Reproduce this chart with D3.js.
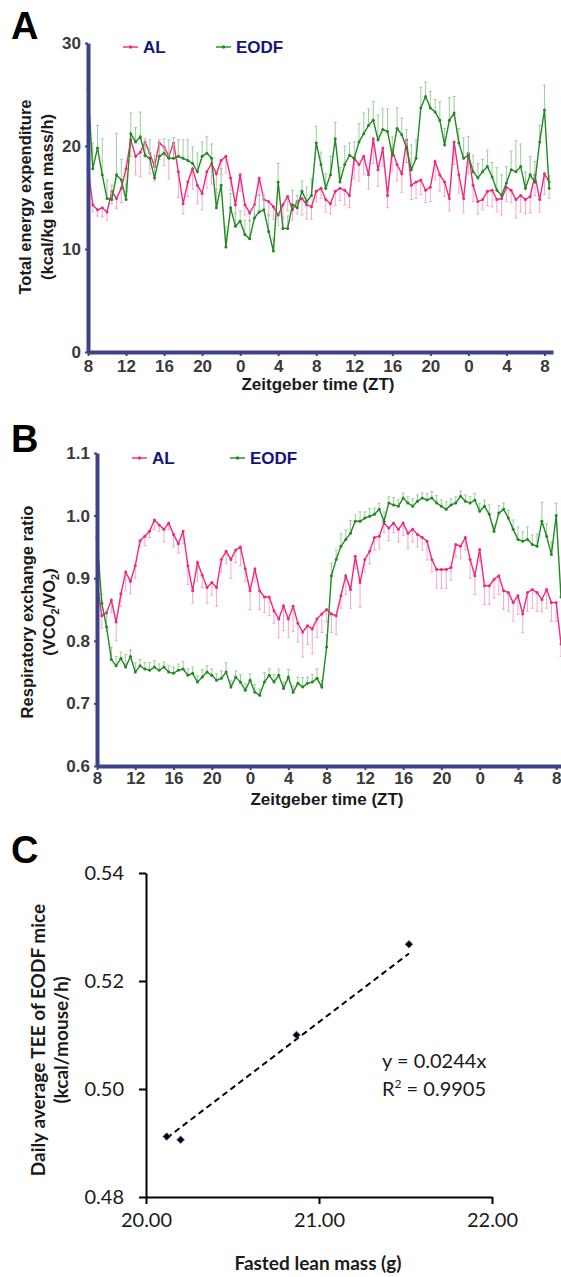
<!DOCTYPE html>
<html>
<head>
<meta charset="utf-8">
<script src="https://cdn.jsdelivr.net/npm/d3@7"></script>
<style>
  body { margin: 0; background: #ffffff; }
  svg { display: block; }
</style>
</head>
<body>
<svg id="fig" width="561" height="1277"></svg>
<script>
// hours after ZT8 of the first day, one reading every half hour
const hours = [0,0.5,1,1.5,2,2.5,3,3.5,4,4.5,5,5.5,6,6.5,7,7.5,8,8.5,9,9.5,
  10,10.5,11,11.5,12,12.5,13,13.5,14,14.5,15,15.5,16,16.5,17,17.5,18,18.5,19,19.5,
  20,20.5,21,21.5,22,22.5,23,23.5,24,24.5,25,25.5,26,26.5,27,27.5,28,28.5,29,29.5,
  30,30.5,31,31.5,32,32.5,33,33.5,34,34.5,35,35.5,36,36.5,37,37.5,38,38.5,39,39.5,
  40,40.5,41,41.5,42,42.5,43,43.5,44,44.5,45,45.5,46,46.5,47,47.5,48,48.5];

const ztTickHours = [0,4,8,12,16,20,24,28,32,36,40,44,48];
const ztTickLabels = ["8","12","16","20","0","4","8","12","16","20","0","4","8"];

// Panel A - total energy expenditure (kcal/kg lean mass/h)
const alTee = [17.8,14.3,13.8,14.0,13.6,15.6,14.9,15.9,17.8,20.6,19.0,19.4,20.4,19.3,18.0,20.3,19.9,19.0,20.3,17.5,
  14.4,16.5,17.8,16.2,15.4,17.5,18.3,17.3,18.6,19.0,16.9,14.3,17.2,14.3,13.5,14.3,16.9,14.8,14.6,14.1,
  13.3,14.3,15.1,13.8,14.6,14.9,14.3,14.1,15.6,15.9,14.8,14.4,15.6,15.9,15.7,15.2,18.8,18.2,19.0,17.2,
  20.7,17.7,19.8,15.2,19.6,18.2,17.3,20.6,16.2,16.5,16.7,15.7,16.0,18.5,17.2,16.5,14.9,20.4,17.2,14.9,
  19.3,16.2,14.6,14.8,15.6,15.7,14.8,14.9,16.0,15.7,14.8,15.2,14.8,15.1,17.2,14.8,17.3,16.5];
const alTeeErr = [0.8,0.7,0.6,0.9,0.8,1.2,1.0,1.4,2.2,1.6,1.8,2.4,1.5,2.0,1.4,1.6,1.8,2.2,1.5,2.5,
  1.0,1.4,2.0,1.8,1.6,1.6,2.0,1.8,1.4,1.6,1.2,0.8,1.6,1.0,0.8,1.0,1.6,1.2,1.4,1.2,
  1.0,1.2,1.4,1.0,1.2,1.6,1.4,1.2,1.0,1.0,1.2,1.0,1.4,1.2,1.4,1.2,2.0,1.6,1.8,1.4,
  2.4,1.6,1.8,1.2,2.0,1.6,1.8,2.2,1.4,1.6,1.4,1.2,1.4,1.8,1.6,1.4,1.2,2.2,1.8,1.4,
  2.0,1.6,1.2,1.0,1.4,1.6,1.2,1.6,1.4,1.2,1.8,1.6,1.4,1.6,2.0,1.2,2.0,1.6];
const eodfTee = [25.5,17.8,19.8,17.2,14.9,14.8,17.2,16.7,14.8,21.2,20.4,20.9,19.1,18.8,16.9,19.0,19.3,18.8,18.8,19.0,
  18.8,18.6,18.3,17.5,19.0,19.3,18.8,14.0,16.2,10.2,14.0,12.2,12.7,11.4,11.0,13.0,13.6,13.8,11.7,9.8,
  16.5,12.0,12.0,14.3,14.0,15.6,14.6,15.2,20.3,18.2,15.9,17.2,20.7,16.5,18.2,19.1,18.8,20.4,21.2,22.0,
  22.5,20.6,21.6,21.4,19.1,21.7,21.1,19.8,17.7,18.8,23.7,24.8,23.7,23.3,22.5,20.1,22.5,23.2,20.3,18.8,
  19.1,17.5,16.9,17.5,18.0,17.0,15.7,15.2,16.4,17.7,17.5,18.0,15.9,17.2,16.5,20.4,23.5,15.9];
const eodfTeeErr = [3.0,2.5,2.2,3.5,1.8,1.4,4.0,2.0,1.5,2.0,1.4,2.4,1.6,1.8,2.2,1.6,1.4,1.8,2.0,1.6,
  1.8,2.0,1.6,1.8,1.4,1.6,1.4,1.8,1.6,2.0,1.4,1.2,1.0,1.4,1.8,1.2,1.6,1.4,1.6,1.2,
  1.8,1.0,1.2,1.4,1.2,1.0,1.4,1.6,1.6,1.2,1.4,1.8,1.6,1.4,1.8,1.2,1.6,1.8,2.0,1.6,
  1.8,2.4,2.0,2.2,1.8,2.0,1.6,1.8,2.4,1.8,2.0,1.4,1.6,1.2,1.8,1.6,2.2,1.6,1.4,2.0,
  1.8,1.6,1.4,1.2,1.6,1.4,2.2,2.0,1.6,1.8,3.0,2.2,1.6,1.8,2.0,1.6,2.4,1.2];

// Panel B - respiratory exchange ratio
const alRer = [0.895,0.84,0.845,0.865,0.83,0.875,0.91,0.895,0.92,0.96,0.967,0.975,0.993,0.985,0.978,0.988,0.97,0.955,0.975,0.92,
  0.88,0.925,0.905,0.885,0.893,0.885,0.93,0.943,0.93,0.945,0.95,0.915,0.88,0.915,0.88,0.87,0.87,0.848,0.835,0.856,
  0.835,0.855,0.828,0.814,0.824,0.819,0.835,0.843,0.85,0.843,0.84,0.872,0.904,0.882,0.935,0.893,0.93,0.943,0.965,0.967,
  0.988,0.98,0.988,0.978,0.988,0.972,0.978,0.97,0.965,0.959,0.93,0.914,0.914,0.914,0.917,0.954,0.951,0.965,0.93,0.904,
  0.946,0.888,0.888,0.898,0.904,0.88,0.877,0.861,0.872,0.843,0.877,0.882,0.877,0.866,0.882,0.861,0.861,0.795];
const alRerErr = [0.01,0.02,0.03,0.02,0.03,0.02,0.03,0.02,0.02,0.01,0.015,0.01,0.015,0.01,0.02,0.01,0.02,0.015,0.02,0.03,
  0.02,0.03,0.02,0.025,0.02,0.03,0.02,0.02,0.03,0.02,0.03,0.02,0.03,0.02,0.03,0.025,0.03,0.02,0.03,0.04,
  0.03,0.04,0.03,0.04,0.03,0.04,0.03,0.03,0.02,0.03,0.03,0.02,0.03,0.03,0.02,0.04,0.02,0.02,0.02,0.02,
  0.015,0.02,0.015,0.02,0.02,0.025,0.02,0.02,0.02,0.03,0.02,0.03,0.03,0.03,0.02,0.02,0.02,0.02,0.03,0.03,
  0.02,0.03,0.03,0.03,0.03,0.03,0.03,0.03,0.03,0.03,0.03,0.03,0.03,0.02,0.03,0.03,0.03,0.02];
const eodfRer = [0.965,0.86,0.822,0.77,0.76,0.772,0.758,0.775,0.75,0.76,0.755,0.753,0.758,0.753,0.758,0.75,0.748,0.753,0.755,0.745,
  0.748,0.734,0.742,0.75,0.745,0.737,0.74,0.75,0.726,0.742,0.734,0.721,0.737,0.718,0.713,0.734,0.745,0.734,0.745,0.724,
  0.742,0.718,0.732,0.726,0.732,0.734,0.74,0.726,0.79,0.904,0.93,0.951,0.962,0.972,0.991,0.991,0.996,0.999,1.002,1.01,
  0.991,1.02,1.017,1.015,1.028,1.02,1.015,1.023,1.028,1.025,1.028,1.02,1.015,1.01,1.017,1.02,1.031,1.023,1.02,1.025,
  1.007,1.015,1.002,0.975,1.004,1.01,0.996,0.978,0.962,0.959,0.962,0.954,0.951,0.991,0.967,0.938,1.0,0.87];
const eodfRerErr = [0.01,0.015,0.02,0.02,0.015,0.01,0.02,0.01,0.015,0.01,0.01,0.012,0.01,0.01,0.008,0.01,0.01,0.01,0.012,0.01,
  0.01,0.01,0.012,0.01,0.01,0.01,0.012,0.015,0.01,0.01,0.012,0.01,0.01,0.012,0.01,0.015,0.01,0.012,0.01,0.01,
  0.012,0.01,0.01,0.015,0.01,0.012,0.015,0.01,0.02,0.02,0.015,0.02,0.015,0.02,0.01,0.015,0.01,0.012,0.01,0.01,
  0.015,0.01,0.012,0.01,0.008,0.01,0.012,0.01,0.008,0.01,0.01,0.012,0.01,0.012,0.01,0.01,0.008,0.01,0.01,0.01,
  0.012,0.01,0.015,0.01,0.012,0.01,0.012,0.015,0.02,0.015,0.02,0.015,0.02,0.03,0.02,0.02,0.02,0.01];

// Panel C - daily average TEE vs fasted lean mass
const leanMass = [20.12, 20.20, 20.87, 21.52];
const teeMouse = [0.4912, 0.4906, 0.5100, 0.5268];
const fitSlope = 0.0244;
const fitR2 = "0.9905";

const pink = "#f0287f", pinkLight = "#f3a9ca";
const green = "#1f8a1f", greenLight = "#9fcc9f";
const navy = "#3d4289";
const svg = d3.select("#fig");
const armFont = "'Liberation Sans', Arial, sans-serif";
const calFont = "Lato, 'Open Sans', sans-serif";

function drawTimePanel(p) {
    const g = svg.append("g");
    const x = d3.scaleLinear().domain([0, p.xMax]).range([p.left, p.right]);
    const y = d3.scaleLinear().domain(p.yDomain).range([p.bottom, p.top]);

    // series: error bars, line, markers
    const series = [
        { vals: p.al, err: p.alErr, dir: -1, c: pink, cl: pinkLight },
        { vals: p.eodf, err: p.eodfErr, dir: 1, c: green, cl: greenLight }
    ];
    series.forEach(s => {
        const pts = hours.map((h, i) => ({ h, v: s.vals[i], e: s.err[i] }));
        const eg = g.append("g").attr("stroke", s.cl).attr("stroke-width", 1);
        eg.selectAll("line.bar").data(pts).enter().append("line")
            .attr("x1", d => x(d.h)).attr("x2", d => x(d.h))
            .attr("y1", d => y(d.v)).attr("y2", d => y(d.v + s.dir * d.e));
        eg.selectAll("line.cap").data(pts).enter().append("line")
            .attr("x1", d => x(d.h) - 1.5).attr("x2", d => x(d.h) + 1.5)
            .attr("y1", d => y(d.v + s.dir * d.e)).attr("y2", d => y(d.v + s.dir * d.e));
        g.append("path").datum(pts)
            .attr("fill", "none").attr("stroke", s.c).attr("stroke-width", 1.4)
            .attr("d", d3.line().x(d => x(d.h)).y(d => y(d.v)));
        g.append("g").selectAll("circle").data(pts).enter().append("circle")
            .attr("cx", d => x(d.h)).attr("cy", d => y(d.v)).attr("r", 1.5)
            .attr("fill", s.c);
    });

    // axes
    const xAxis = g.append("g").attr("transform", `translate(0,${p.bottom})`)
        .call(d3.axisBottom(x).tickValues(ztTickHours)
            .tickFormat((d, i) => ztTickLabels[i]).tickSize(4).tickSizeOuter(0).tickPadding(p.xPad));
    const yAxis = g.append("g").attr("transform", `translate(${p.left},0)`)
        .call(d3.axisLeft(y).tickValues(p.yTicks).tickFormat(p.yFmt)
            .tickSize(3).tickSizeOuter(0).tickPadding(4));
    [xAxis, yAxis].forEach(a => {
        a.select(".domain").attr("stroke", navy).attr("stroke-width", 4);
        a.selectAll(".tick line").attr("stroke", navy).attr("stroke-width", 2);
        a.selectAll("text").attr("fill", "#3a3a3a").attr("font-family", armFont)
            .attr("font-weight", "bold").attr("font-size", "17px");
    });

    // axis titles
    g.append("text").attr("x", p.xLabelX).attr("y", p.xLabelY)
        .attr("text-anchor", "middle").attr("font-family", armFont)
        .attr("font-weight", "bold").attr("font-size", "17px").attr("fill", "#1a1a1a")
        .text("Zeitgeber time (ZT)");
    p.yLabel(g);

    // legend
    [{ t: "AL", c: pink, x: p.legendX[0] }, { t: "EODF", c: green, x: p.legendX[1] }].forEach(l => {
        g.append("line").attr("x1", l.x).attr("x2", l.x + 15)
            .attr("y1", p.legendY).attr("y2", p.legendY)
            .attr("stroke", l.c).attr("stroke-width", 1.4);
        g.append("circle").attr("cx", l.x + 7.5).attr("cy", p.legendY).attr("r", 1.7).attr("fill", l.c);
        g.append("text").attr("x", l.x + 20).attr("y", p.legendY + 6)
            .attr("font-family", armFont).attr("font-weight", "bold").attr("font-size", "17px")
            .attr("fill", "#14147a").text(l.t);
    });

    // panel letter
    g.append("text").attr("x", 11).attr("y", p.letterY)
        .attr("font-family", armFont).attr("font-weight", "bold").attr("font-size", "38px")
        .attr("fill", "#000").text(p.letter);
}

function rotLabel(g, cx, cy, size, family, build) {
    const t = g.append("text").attr("transform", `translate(${cx},${cy}) rotate(-90)`)
        .attr("text-anchor", "middle").attr("dy", "0.35em")
        .attr("font-family", family).attr("font-weight", "bold")
        .attr("font-size", size).attr("fill", "#1a1a1a");
    build(t);
}

drawTimePanel({
    letter: "A", letterY: 39,
    left: 88, right: 553, top: 43, bottom: 352, xMax: 48.9, xPad: 4,
    yDomain: [0, 30], yTicks: [0, 10, 20, 30], yFmt: d3.format("d"),
    al: alTee, alErr: alTeeErr, eodf: eodfTee, eodfErr: eodfTeeErr,
    legendX: [123, 216], legendY: 47,
    xLabelX: 318, xLabelY: 390,
    yLabel: g => {
        rotLabel(g, 25, 197, "16.5px", armFont, t => t.text("Total energy expenditure"));
        rotLabel(g, 47, 197, "16.5px", armFont, t => t.text("(kcal/kg lean mass/h)"));
    }
});

drawTimePanel({
    letter: "B", letterY: 452,
    left: 97, right: 561, top: 453, bottom: 766, xMax: 48.5, xPad: 2,
    yDomain: [0.6, 1.1], yTicks: [0.6, 0.7, 0.8, 0.9, 1.0, 1.1], yFmt: d3.format(".1f"),
    al: alRer, alErr: alRerErr, eodf: eodfRer, eodfErr: eodfRerErr,
    legendX: [132, 230], legendY: 458,
    xLabelX: 327, xLabelY: 805,
    yLabel: g => {
        rotLabel(g, 27, 612, "16.5px", armFont, t => t.text("Respiratory exchange ratio"));
        rotLabel(g, 49, 612, "16.5px", armFont, t => {
            t.append("tspan").text("(VCO");
            t.append("tspan").attr("font-size", "11px").attr("dy", "4").text("2");
            t.append("tspan").attr("dy", "-4").text("/VO");
            t.append("tspan").attr("font-size", "11px").attr("dy", "4").text("2");
            t.append("tspan").attr("dy", "-4").text(")");
        });
    }
});

// Panel C
(function () {
    const g = svg.append("g");
    const x = d3.scaleLinear().domain([20, 22]).range([146, 492]);
    const y = d3.scaleLinear().domain([0.48, 0.54]).range([1197, 873]);

    const xAxis = g.append("g").attr("transform", "translate(0,1197)")
        .call(d3.axisBottom(x).tickValues([20, 21, 22]).tickFormat(d3.format(".2f"))
            .tickSize(7).tickSizeOuter(0).tickPadding(9));
    const yAxis = g.append("g").attr("transform", "translate(146,0)")
        .call(d3.axisLeft(y).tickValues([0.48, 0.50, 0.52, 0.54]).tickFormat(d3.format(".2f"))
            .tickSize(7).tickSizeOuter(0).tickPadding(15));
    [xAxis, yAxis].forEach(a => {
        a.select(".domain").attr("stroke", "#000").attr("stroke-width", 2);
        a.selectAll(".tick line").attr("stroke", "#000").attr("stroke-width", 2);
        a.selectAll("text").attr("fill", "#1a1a1a").attr("font-family", calFont)
            .attr("font-size", "20px");
    });

    // trendline through origin
    const x0 = d3.min(leanMass), x1 = d3.max(leanMass);
    g.append("path").datum([x0, x1])
        .attr("fill", "none").attr("stroke", "#000").attr("stroke-width", 2)
        .attr("stroke-dasharray", "6,4")
        .attr("d", d3.line().x(d => x(d)).y(d => y(fitSlope * d)));

    g.selectAll("path.pt").data(leanMass).enter().append("path")
        .attr("transform", (d, i) => `translate(${x(d)},${y(teeMouse[i])}) rotate(45)`)
        .attr("d", d3.symbol(d3.symbolSquare, 30))
        .attr("fill", "#000").attr("stroke", "#4f81bd").attr("stroke-width", 0.8);

    g.append("text").attr("x", 382).attr("y", 1068)
        .attr("font-family", calFont).attr("font-size", "20px").attr("fill", "#1a1a1a")
        .text(`y = ${fitSlope}x`);
    const r = g.append("text").attr("x", 382).attr("y", 1096)
        .attr("font-family", calFont).attr("font-size", "20px").attr("fill", "#1a1a1a");
    r.append("tspan").text("R");
    r.append("tspan").attr("font-size", "12px").attr("dy", "-8").text("2");
    r.append("tspan").attr("dy", "8").text(` = ${fitR2}`);

    g.append("text").attr("x", 318).attr("y", 1270).attr("text-anchor", "middle")
        .attr("font-family", calFont).attr("font-weight", "bold").attr("font-size", "19px")
        .attr("fill", "#1a1a1a").text("Fasted lean mass (g)");
    rotLabel(g, 38, 1040, "19px", calFont, t => t.text("Daily average TEE of EODF mice"));
    rotLabel(g, 61, 1040, "19px", calFont, t => t.text("(kcal/mouse/h)"));

    g.append("text").attr("x", 11).attr("y", 863)
        .attr("font-family", armFont).attr("font-weight", "bold").attr("font-size", "38px")
        .attr("fill", "#000").text("C");
})();
</script>
</body>
</html>
